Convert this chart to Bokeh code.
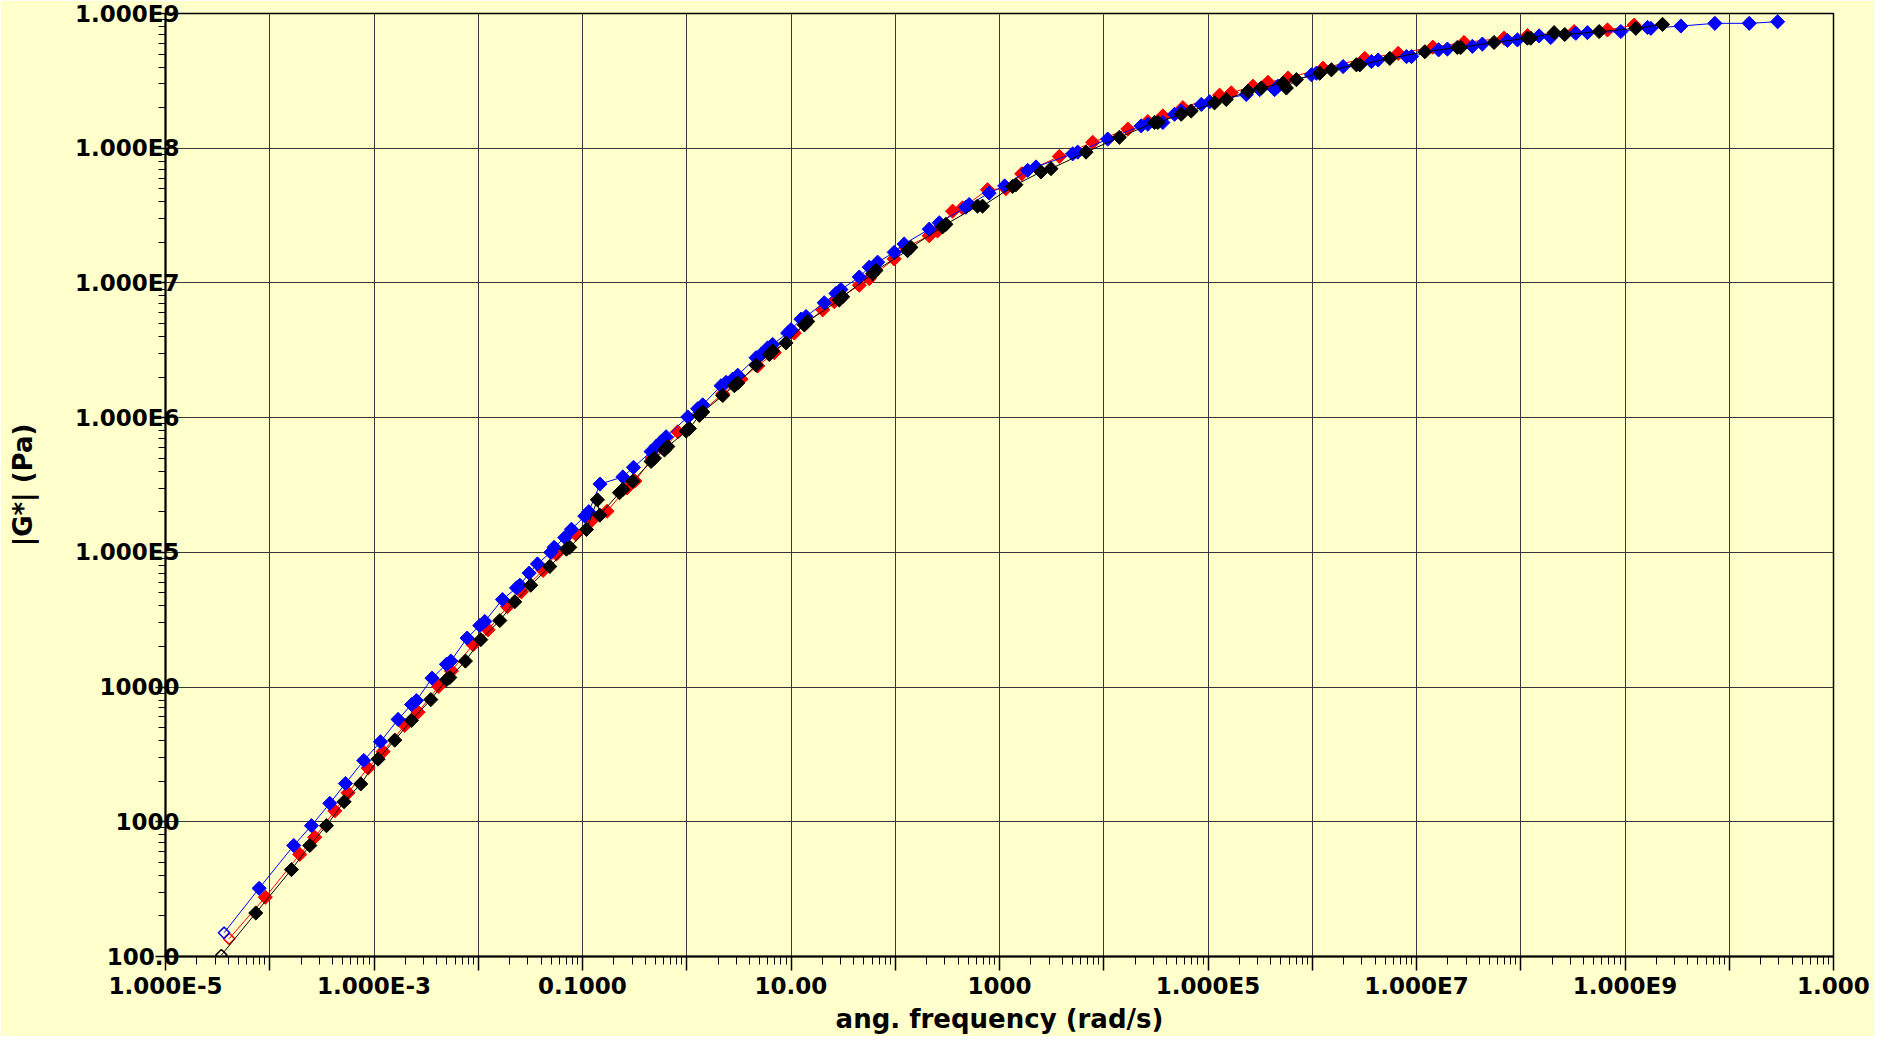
import math
from bokeh.plotting import figure
from bokeh.models import Range1d, FixedTicker
from bokeh.embed import file_html
from bokeh.resources import INLINE

# ---- data: values as log10(omega [rad/s]) and log10(|G*| [Pa]) ----
red_log_w = [-4.390, -4.042, -3.712, -3.568, -3.376, -3.249, -3.057, -2.913, -2.705, -2.577,
             -2.379, -2.257, -2.049, -1.905, -1.720, -1.586, -1.378, -1.250, -1.064, -0.910,
             -0.765, -0.574, -0.497, -0.330, -0.190, -0.086, 0.137, 0.345, 0.521, 0.681,
             0.840, 1.032, 1.128, 1.304, 1.415, 1.655, 1.751, 1.990, 2.102, 2.326,
             2.406, 2.550, 2.645, 2.885, 3.061, 3.213, 3.574, 3.894, 4.231, 4.423,
             4.567, 4.759, 5.111, 5.223, 5.431, 5.575, 5.768, 6.104, 6.504, 6.824,
             7.156, 7.456, 7.840, 8.064, 8.512, 8.832, 9.088]
red_log_g = [2.132, 2.440, 2.758, 2.885, 3.081, 3.215, 3.399, 3.521, 3.716, 3.814,
             4.005, 4.120, 4.315, 4.425, 4.597, 4.707, 4.866, 4.988, 5.135, 5.238,
             5.305, 5.478, 5.529, 5.700, 5.790, 5.895, 6.042, 6.176, 6.286, 6.384,
             6.482, 6.628, 6.689, 6.800, 6.861, 6.983, 7.032, 7.178, 7.264, 7.350,
             7.386, 7.533, 7.557, 7.692, 7.700, 7.810, 7.939, 8.044, 8.142, 8.198,
             8.240, 8.301, 8.394, 8.411, 8.460, 8.489, 8.521, 8.594, 8.667, 8.704,
             8.750, 8.785, 8.817, 8.836, 8.866, 8.878, 8.914]

blue_log_w = [-4.438, -4.102, -3.770, -3.600, -3.424, -3.274, -3.098, -2.938, -2.769, -2.640,
              -2.593, -2.443, -2.305, -2.263, -2.107, -1.985, -1.937, -1.768, -1.633, -1.601,
              -1.512, -1.432, -1.304, -1.272, -1.170, -1.106, -0.978, -0.940, -0.832, -0.613,
              -0.511, -0.342, -0.294, -0.246, -0.198, 0.010, 0.105, 0.153, 0.329, 0.377,
              0.441, 0.489, 0.665, 0.712, 0.776, 0.824, 0.968, 1.000, 1.096, 1.144,
              1.319, 1.431, 1.479, 1.655, 1.751, 1.831, 1.990, 2.086, 2.326, 2.422,
              2.677, 2.709, 2.901, 3.050, 3.270, 3.350, 3.702, 3.750, 4.038, 4.359,
              4.423, 4.567, 4.679, 4.743, 4.936, 5.016, 5.367, 5.495, 5.639, 5.671,
              5.992, 6.040, 6.296, 6.568, 6.632, 6.904, 6.952, 7.212, 7.296, 7.536,
              7.632, 7.872, 7.968, 8.176, 8.288, 8.528, 8.640, 8.960, 9.216, 9.248,
              9.536, 9.862, 10.192, 10.464]
blue_log_g = [2.176, 2.506, 2.824, 2.971, 3.137, 3.284, 3.455, 3.594, 3.760, 3.870,
              3.900, 4.066, 4.169, 4.193, 4.364, 4.457, 4.487, 4.650, 4.736, 4.756,
              4.846, 4.914, 5.000, 5.037, 5.110, 5.171, 5.269, 5.302, 5.507, 5.560,
              5.631, 5.748, 5.785, 5.822, 5.858, 6.005, 6.066, 6.095, 6.237, 6.262,
              6.286, 6.315, 6.445, 6.469, 6.518, 6.543, 6.628, 6.653, 6.731, 6.751,
              6.853, 6.922, 6.951, 7.044, 7.117, 7.154, 7.227, 7.289, 7.399, 7.447,
              7.562, 7.582, 7.667, 7.720, 7.836, 7.861, 7.958, 7.971, 8.068, 8.166,
              8.178, 8.191, 8.252, 8.276, 8.325, 8.345, 8.399, 8.435, 8.435, 8.460,
              8.545, 8.557, 8.606, 8.643, 8.655, 8.680, 8.680, 8.730, 8.736, 8.756,
              8.773, 8.800, 8.804, 8.834, 8.822, 8.853, 8.858, 8.866, 8.897, 8.890,
              8.907, 8.927, 8.927, 8.939]

black_log_w = [-4.464, -4.134, -3.792, -3.616, -3.456, -3.287, -3.127, -2.961, -2.801, -2.641,
               -2.455, -2.305, -2.273, -2.123, -1.976, -1.793, -1.650, -1.496, -1.314, -1.154,
               -1.122, -0.962, -0.857, -0.834, -0.645, -0.613, -0.518, -0.342, -0.310, -0.214,
               -0.182, -0.006, 0.026, 0.121, 0.153, 0.345, 0.457, 0.489, 0.665, 0.792,
               0.824, 0.952, 1.128, 1.160, 1.463, 1.495, 1.783, 1.815, 2.118, 2.150,
               2.454, 2.486, 2.789, 2.837, 3.125, 3.157, 3.398, 3.494, 3.830, 4.150,
               4.487, 4.519, 4.743, 4.839, 5.063, 5.175, 5.383, 5.511, 5.720, 5.752,
               5.848, 6.072, 6.184, 6.424, 6.456, 6.744, 7.080, 7.392, 7.424, 7.744,
               8.064, 8.096, 8.320, 8.422, 8.752, 9.104, 9.360]
black_log_g = [2.010, 2.323, 2.645, 2.824, 2.971, 3.149, 3.281, 3.465, 3.606, 3.753,
               3.907, 4.054, 4.071, 4.193, 4.352, 4.494, 4.633, 4.756, 4.895, 5.024,
               5.037, 5.170, 5.390, 5.276, 5.443, 5.467, 5.528, 5.675, 5.699, 5.760,
               5.785, 5.900, 5.919, 6.017, 6.042, 6.164, 6.237, 6.257, 6.389, 6.469,
               6.494, 6.555, 6.689, 6.714, 6.873, 6.897, 7.068, 7.093, 7.240, 7.264,
               7.416, 7.435, 7.570, 7.570, 7.716, 7.729, 7.824, 7.848, 7.971, 8.081,
               8.191, 8.191, 8.252, 8.276, 8.337, 8.362, 8.423, 8.447, 8.484, 8.447,
               8.509, 8.557, 8.582, 8.619, 8.619, 8.667, 8.716, 8.748, 8.748, 8.785,
               8.817, 8.817, 8.858, 8.844, 8.866, 8.890, 8.919]

x_tick_exponents = list(range(-5, 12))
x_tick_labels = ["1.000E-5", "", "1.000E-3", "", "0.1000", "", "10.00", "", "1000", "",
                 "1.000E5", "", "1.000E7", "", "1.000E9", "", "1.000"]
y_tick_exponents = list(range(2, 10))
y_tick_labels = ["100.0", "1000", "10000", "1.000E5", "1.000E6", "1.000E7", "1.000E8", "1.000E9"]

BG = "#FFFFCC"
FONT = "DejaVu Sans"

p = figure(width=1874, height=1036, x_axis_type="log", y_axis_type="log",
           x_range=Range1d(1e-5, 1e11), y_range=Range1d(1e2, 1e9),
           output_backend="svg", toolbar_location=None,
           background_fill_color=BG, border_fill_color=BG,
           min_border_left=165, min_border_right=41, min_border_top=13, min_border_bottom=69)

p.outline_line_color = "black"
p.outline_line_width = 1.5

x_major = [10.0 ** k for k in x_tick_exponents]
x_minor = [m * 10.0 ** k for k in x_tick_exponents[:-1] for m in range(2, 10)]
y_major = [10.0 ** k for k in y_tick_exponents]
y_minor = [m * 10.0 ** k for k in y_tick_exponents[:-1] for m in range(2, 10)]

p.xaxis.ticker = FixedTicker(ticks=x_major, minor_ticks=x_minor)
p.yaxis.ticker = FixedTicker(ticks=y_major, minor_ticks=y_minor)
p.xaxis.major_label_overrides = {t: lab for t, lab in zip(x_major, x_tick_labels)}
p.yaxis.major_label_overrides = {t: lab for t, lab in zip(y_major, y_tick_labels)}

for ax in (p.xaxis[0], p.yaxis[0]):
    ax.axis_line_color = "black"
    ax.axis_line_width = 2
    ax.major_tick_line_color = "black"
    ax.major_tick_line_width = 1.5
    ax.minor_tick_line_color = "black"
    ax.minor_tick_line_width = 1
    ax.major_tick_in = 0
    ax.minor_tick_in = 0
    ax.major_label_text_font = FONT
    ax.major_label_text_font_style = "bold"
    ax.major_label_text_font_size = "23px"
    ax.major_label_text_color = "black"
    ax.axis_label_text_font = FONT
    ax.axis_label_text_font_style = "bold"
    ax.axis_label_text_font_size = "26px"
    ax.axis_label_text_color = "black"

p.xaxis.major_tick_out = 14
p.xaxis.minor_tick_out = 8
p.xaxis.major_label_standoff = 2
p.xaxis.axis_label = "ang. frequency (rad/s)"
p.xaxis.axis_label_standoff = 2

p.yaxis.major_tick_out = 10
p.yaxis.minor_tick_out = 7
p.yaxis.major_label_standoff = -24
p.yaxis.axis_label = "|G*| (Pa)"
p.yaxis.axis_label_standoff = 34

p.grid.grid_line_color = "#383838"
p.grid.grid_line_width = 1
p.grid.grid_line_alpha = 1.0

series = [("red", red_log_w, red_log_g),
          ("blue", blue_log_w, blue_log_g),
          ("black", black_log_w, black_log_g)]
for color, lw, lg in series:
    w = [10.0 ** v for v in lw]
    g = [10.0 ** v for v in lg]
    p.line(w, g, line_color=color, line_width=1)
    p.scatter(w[:1], g[:1], marker="square", angle=math.pi / 4, size=8,
              fill_alpha=0, line_color=color, line_width=1.5)
    p.scatter(w[1:], g[1:], marker="square", angle=math.pi / 4, size=10,
              fill_color=color, line_color=color)

open("out.html", "w").write(file_html(p, INLINE))
